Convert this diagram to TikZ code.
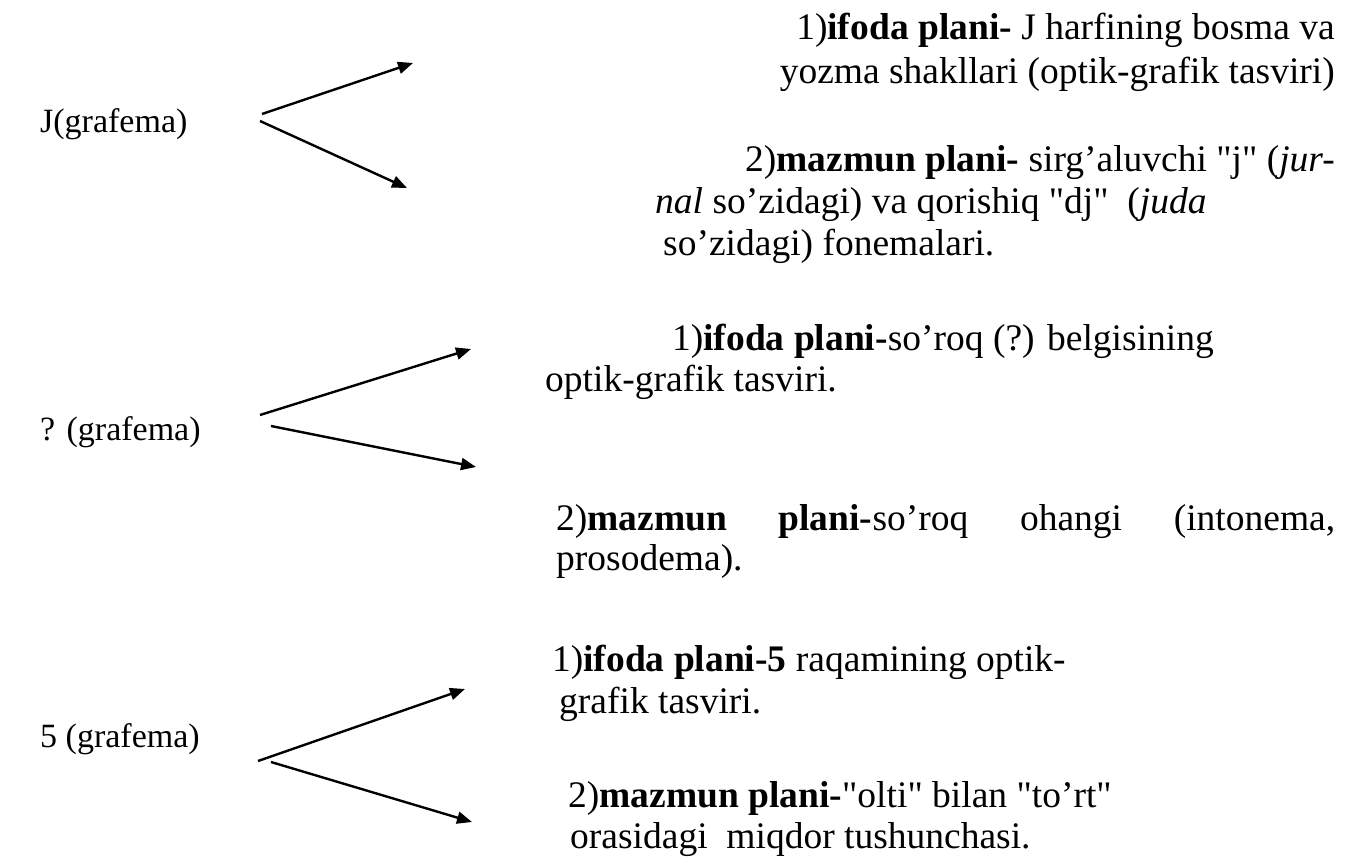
\documentclass[tikz,border=0pt]{standalone}
\usepackage{fontspec}
\setmainfont{Liberation Serif}[Ligatures=TeXOff]
\usetikzlibrary{arrows.meta}
\begin{document}
\begin{tikzpicture}[x=1pt,y=-1pt,
  txt/.style={inner sep=0pt,font=\fontsize{37.5}{42}\selectfont},
  lw/.style={txt,anchor=base west},
  le/.style={txt,anchor=base east},
  lab/.style={inner sep=0pt,anchor=base west,font=\fontsize{34}{40}\selectfont},
  arr/.style={line width=2.4pt,-{Triangle[length=15pt,width=12pt]}}]
\useasboundingbox (0,0) rectangle (1349,859);

% grafema labels
\node[lab] (g1) at (40,132) {J(grafema)};
\node[lab] (g2) at (40,440) {? (grafema)};
\node[lab] (g3) at (40,747) {5 (grafema)};

% J: ifoda / mazmun
\node[le] (a1) at (1335,40) {1)\textbf{ifoda plani-} J harfining bosma va};
\node[le] (a2) at (1335,83) {yozma shakllari (optik-grafik tasviri)};
\node[lw] (b1) at (745,171) {2)\textbf{mazmun plani-} sirg’aluvchi "j" (\textit{jur-}};
\node[lw] (b2) at (655,213) {\textit{nal} so’zidagi) va qorishiq "dj"\ \ (\textit{juda}};
\node[lw] (b3) at (663,255) {so’zidagi) fonemalari.};

% ?: ifoda / mazmun
\node[lw] (c1) at (672,350) {1)\textbf{ifoda plani-}so’roq (?) belgisining};
\node[lw] (c2) at (545,391) {optik-grafik tasviri.};
\node[lw] (d1) at (556,530) {\hbox to 779pt{2)\textbf{mazmun}\hfill\textbf{plani-}so’roq\hfill ohangi\hfill (intonema,}};
\node[lw] (d2) at (556,570) {prosodema).};

% 5: ifoda / mazmun
\node[lw] (e1) at (552,671) {1)\textbf{ifoda plani-5} raqamining optik-};
\node[lw] (e2) at (559,713) {grafik tasviri.};
\node[lw] (f1) at (568,807) {2)\textbf{mazmun plani-}"olti" bilan "to’rt"};
\node[lw] (f2) at (570,848) {orasidagi\ \ miqdor tushunchasi.};

% arrow end points
\coordinate (s1a) at (262,114); \coordinate (t1a) at (413,63);
\coordinate (s1b) at (260,121); \coordinate (t1b) at (407,188);
\coordinate (s2a) at (260,415); \coordinate (t2a) at (471,349);
\coordinate (s2b) at (271,426); \coordinate (t2b) at (476,467);
\coordinate (s3a) at (258,761); \coordinate (t3a) at (465,689);
\coordinate (s3b) at (271,762); \coordinate (t3b) at (472,822);

\draw[arr] (s1a) -- (t1a);
\draw[arr] (s1b) -- (t1b);
\draw[arr] (s2a) -- (t2a);
\draw[arr] (s2b) -- (t2b);
\draw[arr] (s3a) -- (t3a);
\draw[arr] (s3b) -- (t3b);
\end{tikzpicture}
\end{document}
